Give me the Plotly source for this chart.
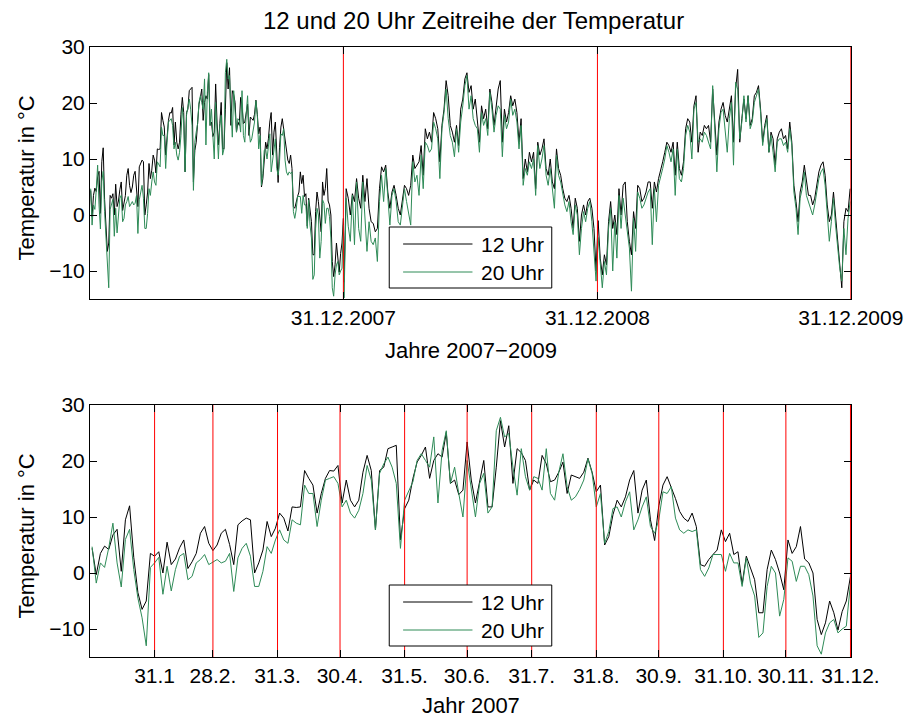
import numpy as np
import pandas as pd
import plotly.graph_objects as go

# ---------------- data ----------------
# 2007: every 2nd day starting 1 Jan 2007 (183 values)
t12_2007 = [4.4, -0.3, 3.5, 4.8, 4.2, 6.8, 7.8, 0.3, 9.5, 12.0, 2.8, -3.5, -6.5, -5.0, 3.5, 3.0, 3.8, 0.0, 5.5, 1.5, 2.5, 4.5, 5.9, 0.8, 2.0, 3.5, 7.1, 8.3, 5.3, 4.0, 5.0,
            7.1, 7.8, 5.1, 1.5, 8.6, 9.3, 9.8, 9.5, 0.0, 1.8, 4.1, 9.2, 6.5, 8.0, 10.7, 9.8, 7.5, 11.8, 11.7, 11.8, 18.3, 16.9, 15.7, 10.7, 14.2, 16.9, 18.3, 18.2, 19.2,
            12.5, 16.6, 13.0, 11.8, 13.0, 18.0, 21.0, 18.3, 7.7, 18.3, 18.9, 22.2, 22.5, 22.8, 5.9, 11.5, 13.0, 16.9, 19.8, 21.0, 22.5, 16.9, 20.1, 21.3, 20.7, 25.1, 16.0, 16.6, 14.0, 14.8, 23.4,
            16.6, 12.5, 16.3, 20.1, 11.8, 11.8, 18.9, 27.2, 22.5, 26.3, 16.0, 22.2, 21.5, 20.1, 14.8, 16.6, 16.0, 21.0, 19.5, 16.3, 16.6, 18.0, 19.8, 14.2, 17.5, 17.2, 16.9, 18.0, 20.5, 18.0, 14.5,
            15.7, 5.0, 6.5, 10.4, 13.0, 11.8, 13.6, 16.6, 18.3, 10.7, 14.8, 16.6, 9.5, 5.8, 12.0, 15.7, 17.2, 15.4, 13.3, 11.0, 9.8, 9.2, 10.7, 8.3, 1.5, 1.2, 2.4, 3.3, 4.1, 7.7,
            5.6, 7.1, 3.3, 3.8, -2.0, 3.0, 0.9, -1.2, -7.1, -7.1, 0.6, 4.1, 2.4, 0.0, -3.0, 5.9, 3.5, 4.7, 8.3, 2.5, 1.8, 0.0, -8.3, -11.0, -8.9, -5.0, -7.1, -10.2, -6.9, -5.0, -0.6]
t20_2007 = [4.7, -1.8, 1.8, 1.0, 4.5, 8.9, 1.8, -2.5, 6.0, 7.8, 0.6, -4.5, -8.0, -13.0, 1.0, 1.8, 2.8, -3.8, 1.2, -3.2, 0.6, 3.0, 3.5, -1.2, -0.6, 1.8, 2.4, 3.3, 1.5, 2.0, 2.4,
            1.8, 2.1, 3.5, -3.3, 2.7, 4.4, 5.3, 3.0, -2.4, -2.4, 0.3, 4.7, 3.5, 5.9, 7.7, 5.9, 5.3, 9.5, 8.9, 8.6, 15.7, 14.2, 14.2, 8.3, 13.0, 16.6, 16.9, 17.2, 16.0,
            11.8, 13.0, 10.7, 9.8, 11.2, 14.2, 19.2, 16.6, 7.7, 17.8, 19.5, 20.7, 18.9, 16.0, 4.4, 13.0, 14.8, 16.3, 20.1, 21.3, 20.1, 18.9, 24.3, 12.5, 21.9, 25.4, 16.0, 18.9, 14.2, 10.0, 20.1,
            14.8, 10.0, 16.0, 17.8, 10.7, 11.8, 25.4, 27.8, 24.3, 24.9, 18.9, 13.9, 22.2, 17.2, 14.8, 17.2, 16.9, 14.8, 22.2, 14.2, 13.0, 18.0, 21.3, 15.4, 13.0, 13.6, 14.9, 16.6, 20.4, 17.8, 11.8,
            14.2, 5.3, 7.4, 11.5, 11.8, 10.0, 12.7, 14.5, 7.7, 9.5, 11.8, 13.6, 8.3, 7.1, 9.5, 14.5, 14.2, 15.4, 9.8, 7.7, 7.1, 7.7, 7.4, 7.7, 0.6, -0.6, 0.9, 3.3, 3.3, 3.3,
            0.3, 3.5, 1.8, 1.8, -2.4, 2.7, -1.8, -4.1, -11.5, -10.7, -2.4, 1.2, 0.0, -7.7, -4.7, 2.7, 2.1, -1.5, 1.2, 1.2, -0.3, -4.1, -13.0, -14.5, -10.7, -8.9, -8.3, -10.7, -10.0, -9.5, -1.8]

# 2008: every 3rd day starting 1 Jan 2008 (122 values)
t12_2008 = [-12.0, 4.7, 3.0, 0.0, 3.8, 2.4, 6.5, 3.0, 1.2, 7.1, 2.4, 6.5, 1.2, -1.2, -1.5, -3.0, -2.4, 4.7, 8.6, 7.7, 8.9, 4.1, 1.2, 4.1, 5.3, 3.5, 1.2, 0.0, 3.0, 5.3,
            4.7, 3.5, 5.3, 10.7, 8.3, 8.9, 9.5, 12.4, 7.1, 15.4, 13.6, 14.8, 13.0, 18.3, 17.2, 15.4, 9.5, 16.0, 18.9, 24.0, 21.3, 16.0, 14.8, 13.0, 16.0, 12.4, 18.9, 20.7, 24.3, 25.4, 21.9,
            23.1, 18.9, 20.7, 17.2, 13.0, 19.5, 17.2, 18.9, 15.4, 22.5, 20.1, 16.0, 18.9, 22.5, 24.0, 13.0, 18.9, 16.6, 18.3, 21.3, 19.5, 20.7, 18.3, 13.0, 17.2, 6.5, 10.0, 7.7, 11.2, 9.5,
            11.2, 4.7, 13.0, 10.7, 11.8, 13.6, 8.3, 7.1, 10.0, 5.9, 4.7, 11.8, 8.3, 7.1, 4.7, 3.0, 2.4, 3.5, 1.2, -2.4, 3.0, 1.2, -4.7, 0.0, 1.8, 0.0, 2.4, 3.0, 1.2, -2.4, -10.0]
t20_2008 = [-14.8, 3.0, -2.0, -4.7, 3.5, -5.3, 5.9, -2.4, -4.7, 5.9, 0.0, -6.5, -1.2, -4.7, -5.3, -4.1, -8.3, 2.4, 7.1, 2.4, 8.3, 3.0, -1.8, 3.5, 4.7, 2.4, -1.2, -1.8, 1.2, 4.7,
            2.4, 0.0, -1.8, 9.5, 5.9, 7.1, 3.5, 10.7, 4.7, 13.0, 12.4, 11.2, 11.8, 16.6, 15.4, 13.6, 6.5, 15.4, 18.3, 22.5, 17.2, 14.2, 13.0, 10.4, 15.4, 11.2, 16.6, 19.5, 23.1, 24.9, 18.9,
            21.3, 17.2, 16.0, 15.4, 11.2, 18.3, 16.0, 17.2, 14.2, 21.9, 18.9, 14.8, 17.8, 19.5, 18.9, 10.4, 17.8, 15.4, 16.6, 20.7, 17.8, 18.9, 16.6, 11.8, 16.0, 5.3, 8.3, 7.1, 9.5, 8.3,
            10.0, 3.5, 12.4, 8.3, 10.0, 12.4, 7.1, 5.3, 8.3, 4.1, 1.2, 10.7, 7.1, 5.9, 3.5, 1.8, 0.6, 2.4, -1.2, -3.5, 1.8, 0.0, -7.1, -2.4, 0.6, -1.2, 1.2, 2.4, -1.2, -5.9, -11.8]

# 2009: every 3rd day starting 1 Jan 2009 (122 values)
t12_2009 = [-1.0, -7.7, -10.7, -7.1, -8.9, -1.2, 2.4, -2.4, 0.0, -3.5, 4.7, 0.0, 5.3, 5.9, -1.2, -4.7, -7.1, 0.6, -2.4, 5.3, 4.7, 2.4, 3.0, 4.1, 5.9, 5.9, 1.2, 5.9, 4.1, 6.5,
            8.3, 9.5, 11.2, 13.0, 12.4, 11.2, 13.0, 7.1, 13.0, 8.3, 7.1, 9.5, 15.4, 17.2, 16.6, 13.0, 19.5, 21.3, 11.2, 14.8, 14.2, 16.0, 15.4, 16.0, 13.0, 22.5, 16.6, 10.7, 16.6, 18.9,
            20.1, 17.8, 16.6, 18.9, 21.3, 13.0, 22.5, 26.0, 13.0, 17.2, 20.7, 17.2, 21.3, 16.0, 17.2, 21.3, 21.9, 23.1, 18.9, 13.0, 16.0, 17.8, 11.2, 14.8, 13.6, 8.9, 13.6, 14.8, 15.4, 13.6,
            14.2, 11.8, 16.6, 13.0, 5.3, 2.4, -1.2, 4.1, 5.9, 8.9, 6.5, 3.5, 3.5, 1.8, 3.0, 5.3, 7.7, 8.9, 9.5, 7.1, 1.8, -1.2, 0.0, 4.1, 0.0, -4.7, -7.7, -13.0, -1.2, 1.2, 0.6, 4.7]
t20_2009 = [-4.0, -9.5, -13.0, -8.3, -10.7, -2.4, 1.2, -10.0, -1.2, -7.7, 3.5, -2.4, 3.0, 0.0, -3.5, -5.9, -13.6, -0.6, -6.5, 4.1, 3.0, 1.2, 1.8, 3.0, 4.1, 4.7, -5.3, 4.7, -1.2, 5.3,
            7.1, 8.3, 10.0, 12.4, 11.2, 9.5, 11.8, 3.5, 11.8, 6.5, 5.9, 8.3, 14.2, 16.0, 14.8, 10.0, 18.9, 20.1, 13.0, 13.6, 13.0, 14.8, 14.2, 13.0, 11.8, 23.1, 15.4, 7.7, 15.4, 18.3,
            18.9, 14.8, 11.2, 17.2, 20.1, 8.9, 23.7, 22.5, 13.6, 16.6, 21.3, 16.6, 21.3, 15.4, 16.6, 20.1, 21.3, 22.5, 18.3, 12.4, 15.4, 17.2, 11.2, 14.2, 11.2, 7.7, 13.0, 13.6, 13.6, 12.4,
            13.0, 11.2, 15.4, 12.4, 4.1, 1.2, -3.5, 3.0, 4.7, 7.7, 3.5, 2.4, 1.2, 0.0, 1.8, 4.1, 6.5, 7.7, 8.3, 5.3, 0.6, -4.7, -1.2, 3.0, -1.8, -5.9, -9.5, -11.8, -2.4, -7.1, -0.6, 2.4]

dates_2007 = pd.date_range("2007-01-01", periods=len(t12_2007), freq="2D")
dates_2008 = pd.date_range("2008-01-01", periods=len(t12_2008), freq="3D")
dates_2009 = pd.date_range("2009-01-01", periods=len(t12_2009), freq="3D")

year_ends = ["2007-12-31", "2008-12-31", "2009-12-31"]
year_labels = ["31.12.2007", "31.12.2008", "31.12.2009"]
month_ends = ["2007-01-31", "2007-02-28", "2007-03-31", "2007-04-30", "2007-05-31", "2007-06-30",
              "2007-07-31", "2007-08-31", "2007-09-30", "2007-10-31", "2007-11-30", "2007-12-31"]
month_labels = ["31.1", "28.2.", "31.3.", "30.4.", "31.5.", "30.6.", "31.7.", "31.8.", "30.9.", "31.10.", "30.11.", "31.12."]
y_ticks = [-10, 0, 10, 20, 30]
y_range = [-15, 30]

series_names = ["12 Uhr", "20 Uhr"]
series_colors = ["#000000", "#2E8B57"]

# ---------------- figure ----------------
FONT = "Liberation Sans, Arial, Helvetica, sans-serif"
FS = 21
fig = go.Figure()

all_dates = dates_2007.append(dates_2008).append(dates_2009)
all12 = list(t12_2007) + list(t12_2008) + list(t12_2009)
all20 = list(t20_2007) + list(t20_2008) + list(t20_2009)

# top panel: 2007-2009
for vals, name, col in [(all12, series_names[0], series_colors[0]), (all20, series_names[1], series_colors[1])]:
    fig.add_trace(go.Scatter(x=all_dates, y=vals, mode="lines", name=name,
                             line=dict(color=col, width=1), xaxis="x", yaxis="y", showlegend=False))
# bottom panel: 2007
for vals, name, col in [(t12_2007, series_names[0], series_colors[0]), (t20_2007, series_names[1], series_colors[1])]:
    fig.add_trace(go.Scatter(x=dates_2007, y=vals, mode="lines", name=name,
                             line=dict(color=col, width=1), xaxis="x2", yaxis="y2", showlegend=False))

# red separators drawn as line traces (year ends top, month ends bottom)
def vlines(dates):
    xs, ys = [], []
    for d in dates:
        xs += [d, d, None]
        ys += [y_range[0], y_range[1], None]
    return xs, ys

xs, ys = vlines(year_ends)
fig.add_trace(go.Scatter(x=xs, y=ys, mode="lines", line=dict(color="#FF0000", width=1),
                         xaxis="x", yaxis="y", showlegend=False, hoverinfo="skip", cliponaxis=False))
xs, ys = vlines(month_ends)
fig.add_trace(go.Scatter(x=xs, y=ys, mode="lines", line=dict(color="#FF0000", width=1),
                         xaxis="x2", yaxis="y2", showlegend=False, hoverinfo="skip", cliponaxis=False))

shapes = []
annotations = []
# manual legends (box, line samples, labels)
W, H = 915, 718
ML, MR, MT, MB = 90, 57, 47, 61
PW, PH = W - ML - MR, H - MT - MB
def px(xp):
    return (xp - ML) / PW
def py(yp):
    return (H - MB - yp) / PH

for top in [227, 585]:
    shapes.append(dict(type="rect", xref="paper", yref="paper", x0=px(392), x1=px(556),
                       y0=py(top + 61), y1=py(top), fillcolor="white", line=dict(color="black", width=1)))
    for i, (nm, col) in enumerate(zip(series_names, series_colors)):
        yy = top + 17 + 28 * i
        shapes.append(dict(type="line", xref="paper", yref="paper", x0=px(406), x1=px(476),
                           y0=py(yy), y1=py(yy), line=dict(color=col, width=1)))
        annotations.append(dict(text=nm, xref="paper", yref="paper", x=px(483), y=py(yy),
                                xanchor="left", yanchor="middle", showarrow=False,
                                font=dict(family=FONT, size=FS, color="black")))

# titles
annotations.append(dict(text="12 und 20 Uhr Zeitreihe der Temperatur", xref="paper", yref="paper",
                        x=px(477), y=py(20), xanchor="center", yanchor="middle", showarrow=False,
                        font=dict(family=FONT, size=24, color="black")))
annotations.append(dict(text="Jahre 2007\u22122009", xref="paper", yref="paper", x=px(474), y=py(350),
                        xanchor="center", yanchor="middle", showarrow=False,
                        font=dict(family=FONT, size=22, color="black")))
annotations.append(dict(text="Jahr 2007", xref="paper", yref="paper", x=px(474), y=py(705),
                        xanchor="center", yanchor="middle", showarrow=False,
                        font=dict(family=FONT, size=22, color="black")))
for yc in [178, 536]:
    annotations.append(dict(text="Temperatur in \u00b0C", xref="paper", yref="paper", x=px(25), y=py(yc),
                            xanchor="center", yanchor="middle", textangle=-90, showarrow=False,
                            font=dict(family=FONT, size=22, color="black")))

axis_common = dict(showline=True, linecolor="black", linewidth=1, mirror="ticks", ticks="inside",
                   ticklen=7, tickwidth=1, tickcolor="black", showgrid=False, zeroline=False,
                   tickfont=dict(family=FONT, size=FS, color="black"))

fig.update_layout(
    width=W, height=H, autosize=False,
    margin=dict(l=ML, r=MR, t=MT, b=MB, pad=0),
    paper_bgcolor="white", plot_bgcolor="white",
    showlegend=False,
    xaxis=dict(domain=[0, 1], anchor="y", type="date",
               range=["2006-12-31", "2009-12-31 06:00"],
               tickmode="array", tickvals=year_ends, ticktext=year_labels, **axis_common),
    yaxis=dict(domain=[py(299), 1], anchor="x", range=y_range,
               tickmode="array", tickvals=y_ticks, **axis_common),
    xaxis2=dict(domain=[0, 1], anchor="y2", type="date",
                range=["2006-12-31", "2007-12-31 06:00"],
                tickmode="array", tickvals=month_ends, ticktext=month_labels, **axis_common),
    yaxis2=dict(domain=[0, py(405)], anchor="x2", range=y_range,
                tickmode="array", tickvals=y_ticks, **axis_common),
    shapes=shapes,
    annotations=annotations,
)

fig.write_html("out.html")
